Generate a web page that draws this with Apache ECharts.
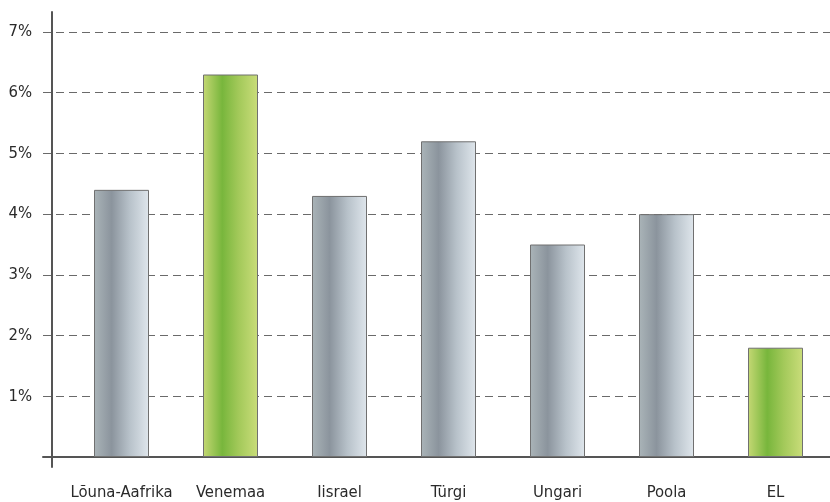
<!DOCTYPE html>
<html><head><meta charset="utf-8">
<script src="https://cdn.jsdelivr.net/npm/echarts@6/dist/echarts.min.js"></script>
<style>html,body{margin:0;padding:0;background:#fff}#c{width:830px;height:502px}</style>
</head><body><div id="c"></div>
<script>
var categories = ['Lõuna-Aafrika', 'Venemaa', 'Iisrael', 'Türgi', 'Ungari', 'Poola', 'EL'];
var values = [4.4, 6.3, 4.3, 5.2, 3.5, 4.0, 1.8];
var highlighted = ['Venemaa', 'EL'];
var yMax = 7;
var yStep = 1;

var FONT = "'DejaVu Sans Condensed', sans-serif";

function grad(stops) {
  return new echarts.graphic.LinearGradient(0, 0, 1, 0, stops.map(function (s) { return { offset: s[0], color: s[1] }; }));
}
var grayFill = grad([[0, '#aab4b8'], [0.32, '#8b949d'], [0.65, '#b8c2ca'], [1, '#dfe6ec']]);
var greenFill = grad([[0, '#c5d874'], [0.35, '#78b63c'], [0.65, '#a3c95a'], [1, '#cadd7a']]);

var chart = echarts.init(document.getElementById('c'), null, { renderer: 'canvas' });
chart.setOption({
  animation: false,
  grid: [
    { left: 43, right: 0, top: 12, bottom: 35 },
    { left: 67, width: 780, top: 32, bottom: 45 },
    { left: 43, right: 0, top: 32, bottom: 45 }
  ],
  xAxis: [
    { gridIndex: 0, type: 'value', min: -9, max: 778,
      axisLine: { show: true, onZero: true, lineStyle: { color: '#555', width: 2 } },
      axisTick: { show: false }, axisLabel: { show: false }, splitLine: { show: false } },
    { gridIndex: 1, type: 'category', data: categories,
      axisLine: { show: false }, axisTick: { show: false },
      axisLabel: { interval: 0, margin: 27, fontFamily: FONT, fontSize: 16.5, color: '#2a2a2a' } },
    { gridIndex: 2, type: 'value', min: 0, max: 1, show: false, splitLine: { show: false } }
  ],
  yAxis: [
    { gridIndex: 0, type: 'value', min: -10 / 60.7, max: 445 / 60.7,
      axisLine: { show: true, onZero: true, lineStyle: { color: '#555', width: 2 } },
      axisTick: { show: false }, axisLabel: { show: false }, splitLine: { show: false } },
    { gridIndex: 1, type: 'value', min: 0, max: yMax, show: false, splitLine: { show: false } },
    { gridIndex: 2, type: 'value', min: 0, max: yMax, interval: yStep,
      axisLine: { show: false }, axisTick: { show: false },
      axisLabel: { margin: 11, fontFamily: FONT, fontSize: 16.5, color: '#2a2a2a', showMinLabel: false,
        formatter: function (v) { return v + '%'; } },
      splitLine: { show: true, showMinLine: false, lineStyle: { color: '#6a6a6a', type: [8, 5], width: 1 } } }
  ],
  series: [{
    type: 'bar', xAxisIndex: 1, yAxisIndex: 1, barWidth: 55, z: 3,
    data: values.map(function (v, i) {
      return { value: v, itemStyle: { color: highlighted.indexOf(categories[i]) >= 0 ? greenFill : grayFill } };
    }),
    itemStyle: { borderColor: '#707070', borderWidth: 1 }
  }]
});
</script></body></html>
